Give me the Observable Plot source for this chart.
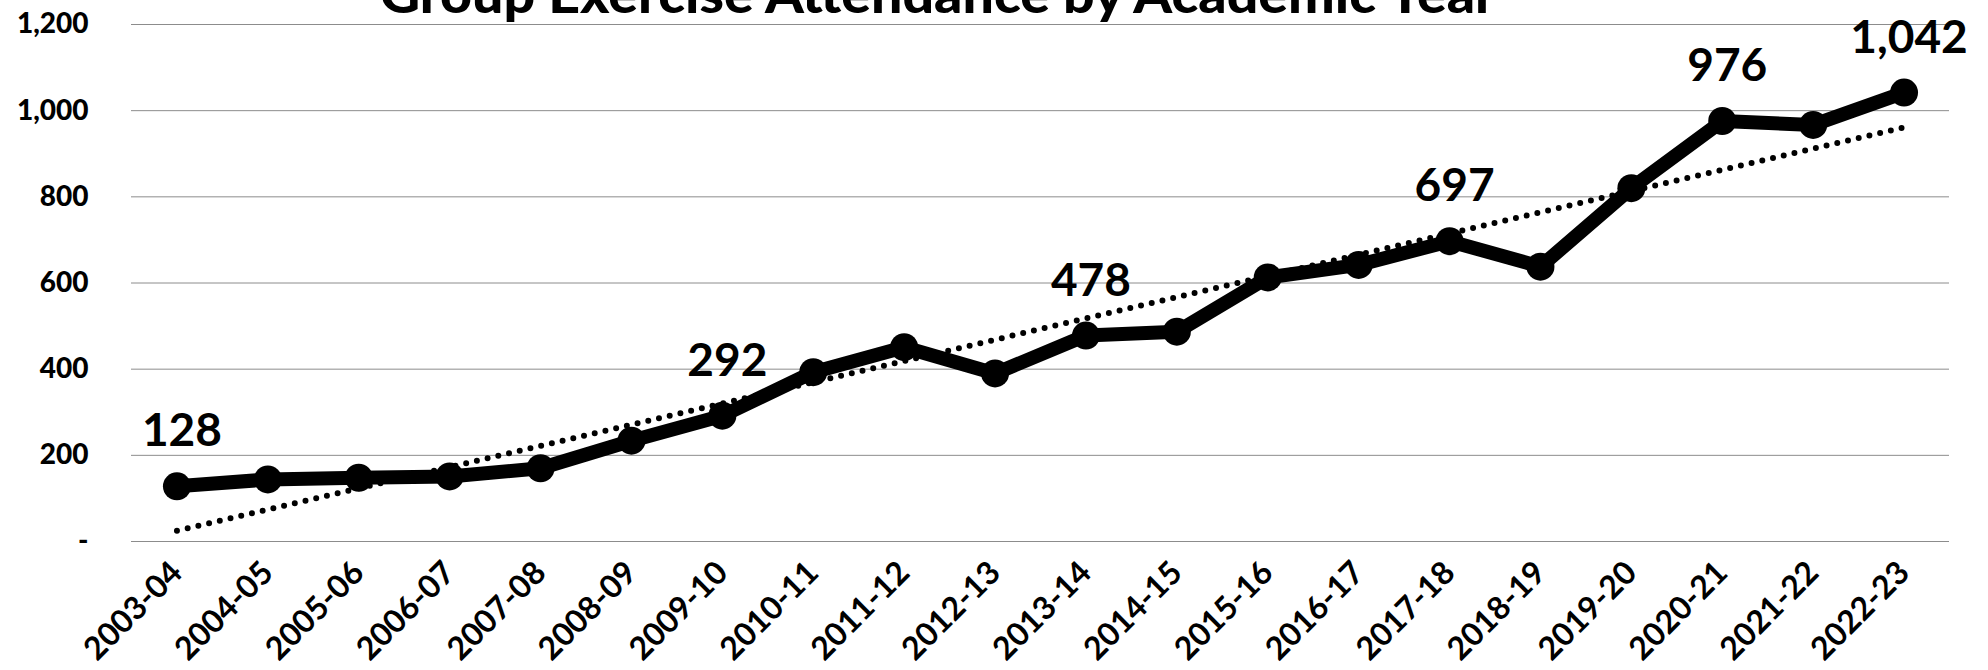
<!DOCTYPE html>
<html>
<head>
<meta charset="utf-8">
<script src="https://cdn.jsdelivr.net/npm/d3@7"></script>
<script src="https://cdn.jsdelivr.net/npm/@observablehq/plot@0.6"></script>
<style>
  html, body { margin: 0; padding: 0; background: #fff; overflow: hidden; }
  #wrap { position: relative; width: 1988px; height: 670px; }
  #title { position: absolute; top: -38px; left: 380px; white-space: nowrap; transform-origin: 0 0;
           font-family: Lato, sans-serif; font-weight: 900; font-size: 52px; color: #000; }
  #chart { position: absolute; top: 0; left: 0; }
</style>
</head>
<body>
<div id="wrap">
  <div id="chart"></div>
  <div id="title">Group Exercise Attendance by Academic Year</div>
</div>
<script>
const years = ["2003-04","2004-05","2005-06","2006-07","2007-08","2008-09","2009-10","2010-11","2011-12","2012-13",
               "2013-14","2014-15","2015-16","2016-17","2017-18","2018-19","2019-20","2020-21","2021-22","2022-23"];
const values = [128, 144, 148, 151, 170, 234, 292, 393, 451, 390,
                478, 487, 613, 642, 697, 638, 820, 976, 967, 1042];
const labeledYears = ["2003-04","2009-10","2013-14","2017-18","2020-21","2022-23"];
const yTicks = [0, 200, 400, 600, 800, 1000, 1200];

const data = years.map((year, i) => ({ i, year, value: values[i] }));
const labeled = data.filter(d => labeledYears.includes(d.year));

const chart = Plot.plot({
  width: 1988,
  height: 670,
  marginLeft: 131,
  marginRight: 39,
  marginTop: 24,
  marginBottom: 129,
  style: { fontFamily: "Lato, sans-serif", background: "#fff", overflow: "visible" },
  x: { type: "linear", domain: [-0.5, years.length - 0.5] },
  y: { domain: [0, 1200] },
  marks: [
    Plot.gridY(yTicks, { stroke: "#8c8c8c", strokeWidth: 1, strokeOpacity: 1 }),
    Plot.axisY({ ticks: yTicks, tickSize: 0, tickPadding: 43, label: null,
      tickFormat: d => d === 0 ? "-" : d3.format(",")(d),
      fontSize: 28, fontWeight: 900, fill: "#000" }),
    Plot.axisX({ ticks: d3.range(years.length), tickSize: 0, tickPadding: 26, tickRotate: -45, label: null,
      tickFormat: i => years[i], fontSize: 32, fontWeight: "bold", fill: "#000" }),
    Plot.linearRegressionY(data, { x: "i", y: "value", stroke: "#000", strokeWidth: 6,
      strokeDasharray: "0 11", strokeLinecap: "round", ci: 0 }),
    Plot.line(data, { x: "i", y: "value", stroke: "#000", strokeWidth: 14, strokeLinejoin: "round" }),
    Plot.dot(data, { x: "i", y: "value", r: 14, fill: "#000", stroke: "none" }),
    Plot.text(labeled, { x: "i", y: "value", text: d => d3.format(",")(d.value), dy: -40, dx: 5,
      lineAnchor: "bottom", fontSize: 46, fontWeight: "bold", fill: "#000" })
  ]
});
document.getElementById("chart").appendChild(chart);
const t = document.getElementById("title");
const w = t.getBoundingClientRect().width;
t.style.transform = `scaleX(${1116 / w})`;
</script>
</body>
</html>
